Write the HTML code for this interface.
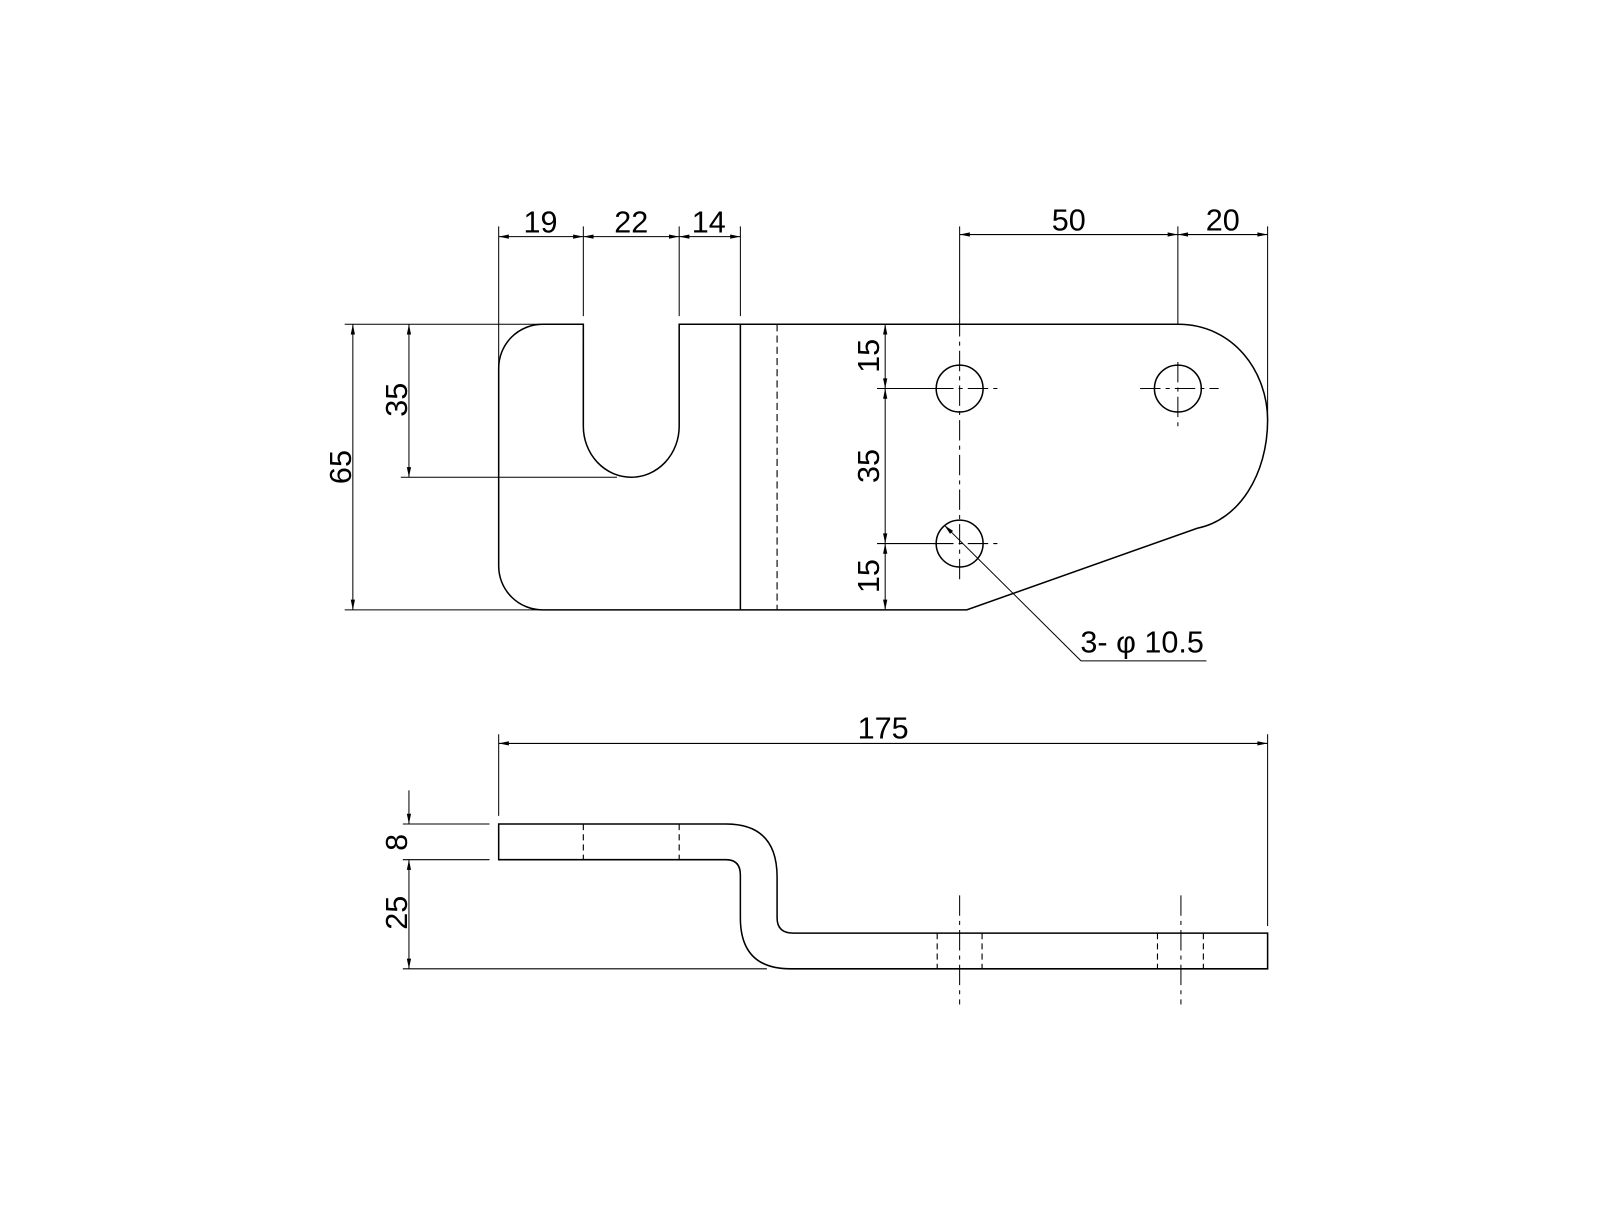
<!DOCTYPE html>
<html><head><meta charset="utf-8"><style>html,body{margin:0;padding:0;background:#fff}</style></head><body>
<svg width="1600" height="1200" viewBox="0 0 1600 1200" xmlns="http://www.w3.org/2000/svg">
<defs>
<marker id="a" viewBox="0 0 12 6" refX="12" refY="3" markerWidth="13" markerHeight="5" orient="auto-start-reverse" markerUnits="userSpaceOnUse"><path d="M0,0.5 L12,3 L0,5.5 Z" fill="#000"/></marker>
</defs>
<g transform="scale(1.0198)">
<g fill="none" stroke="#000" stroke-width="1.5">
<path d="M532,318 L572,318 L572,418 A47,50 0 0 0 666,418 L666,318 L1155,318 C1210,318 1243,365 1243,412 C1243,465 1215,510 1174,518 L948,598 L942,598 L532,598 A43,43 0 0 1 489,555 L489,361 A43,43 0 0 1 532,318"/>
<line x1="726" y1="318" x2="726" y2="598"/>
<line x1="762" y1="318" x2="762" y2="598" stroke-dasharray="7,4" stroke-width="1.1"/>
<circle cx="941" cy="381" r="23"/><circle cx="941" cy="533" r="23"/><circle cx="1155" cy="381" r="23"/>
</g>
<g stroke="#000" stroke-width="1" fill="none" stroke-dasharray="20,5,4,5">
<line x1="915" y1="381" x2="980" y2="381"/><line x1="915" y1="533" x2="980" y2="533"/><line x1="1118" y1="381" x2="1195" y2="381"/>
<line x1="941" y1="310" x2="941" y2="572"/><line x1="1155" y1="355" x2="1155" y2="418"/>
<line x1="941" y1="878" x2="941" y2="985"/><line x1="1158" y1="878" x2="1158" y2="985"/>
</g>
<g stroke="#000" stroke-width="1" fill="none">
<line x1="489" y1="222" x2="489" y2="361"/><line x1="572" y1="222" x2="572" y2="310"/><line x1="666" y1="222" x2="666" y2="310"/><line x1="726" y1="222" x2="726" y2="310"/>
<line x1="489" y1="232" x2="572" y2="232" marker-start="url(#a)" marker-end="url(#a)"/>
<line x1="572" y1="232" x2="666" y2="232" marker-start="url(#a)" marker-end="url(#a)"/>
<line x1="666" y1="232" x2="726" y2="232" marker-start="url(#a)" marker-end="url(#a)"/>
<line x1="941" y1="222" x2="941" y2="310"/><line x1="1155" y1="222" x2="1155" y2="318"/><line x1="1243" y1="222" x2="1243" y2="412"/>
<line x1="941" y1="230" x2="1155" y2="230" marker-start="url(#a)" marker-end="url(#a)"/>
<line x1="1155" y1="230" x2="1243" y2="230" marker-start="url(#a)" marker-end="url(#a)"/>
<line x1="338" y1="318" x2="530" y2="318"/><line x1="338" y1="598" x2="530" y2="598"/>
<line x1="346" y1="318" x2="346" y2="598" marker-start="url(#a)" marker-end="url(#a)"/>
<line x1="393" y1="468" x2="605" y2="468"/>
<line x1="401" y1="318" x2="401" y2="468" marker-start="url(#a)" marker-end="url(#a)"/>
<line x1="860" y1="381" x2="918" y2="381"/><line x1="860" y1="533" x2="918" y2="533"/>
<line x1="868" y1="318" x2="868" y2="381" marker-start="url(#a)" marker-end="url(#a)"/>
<line x1="868" y1="381" x2="868" y2="533" marker-start="url(#a)" marker-end="url(#a)"/>
<line x1="868" y1="533" x2="868" y2="598" marker-start="url(#a)" marker-end="url(#a)"/>
<line x1="1060" y1="648" x2="926" y2="515" marker-end="url(#a)"/>
<line x1="1060" y1="648" x2="1183" y2="648"/>
<line x1="489" y1="720" x2="489" y2="800"/><line x1="1243" y1="720" x2="1243" y2="908"/>
<line x1="489" y1="729" x2="1243" y2="729" marker-start="url(#a)" marker-end="url(#a)"/>
<line x1="395" y1="808" x2="480" y2="808"/><line x1="395" y1="843" x2="480" y2="843"/><line x1="395" y1="950" x2="752" y2="950"/>
<line x1="401" y1="775" x2="401" y2="808" marker-end="url(#a)"/>
<line x1="401" y1="843" x2="401" y2="950" marker-start="url(#a)" marker-end="url(#a)"/>
</g>
<g fill="none" stroke="#000" stroke-width="1.5">
<path d="M489,808 L712,808 Q762,808 762,860 L762,900 Q762,915 778,915 L1243,915 L1243,950 L775,950 Q726,950 726,900 L726,858 Q726,843 712,843 L489,843 Z"/>
</g>
<g stroke="#000" stroke-width="1.1" stroke-dasharray="6,4">
<line x1="572" y1="808" x2="572" y2="843"/><line x1="666" y1="808" x2="666" y2="843"/>
<line x1="919" y1="915" x2="919" y2="950"/><line x1="963" y1="915" x2="963" y2="950"/>
<line x1="1135" y1="915" x2="1135" y2="950"/><line x1="1180" y1="915" x2="1180" y2="950"/>
</g>
<g font-family="Liberation Sans, sans-serif" font-size="30" fill="#000" text-anchor="middle">
<text x="530" y="228">19</text><text x="619" y="228">22</text><text x="695" y="228">14</text>
<text x="1048" y="226">50</text><text x="1199" y="226">20</text>
<text x="866" y="724">175</text>
<text x="1120" y="640">3- φ 10.5</text>
<text transform="translate(344,458) rotate(-90)">65</text>
<text transform="translate(399,392) rotate(-90)">35</text>
<text transform="translate(862,349) rotate(-90)">15</text>
<text transform="translate(862,457) rotate(-90)">35</text>
<text transform="translate(862,565) rotate(-90)">15</text>
<text transform="translate(399,826) rotate(-90)">8</text>
<text transform="translate(399,895) rotate(-90)">25</text>
</g>
</g>
</svg>
</body></html>
